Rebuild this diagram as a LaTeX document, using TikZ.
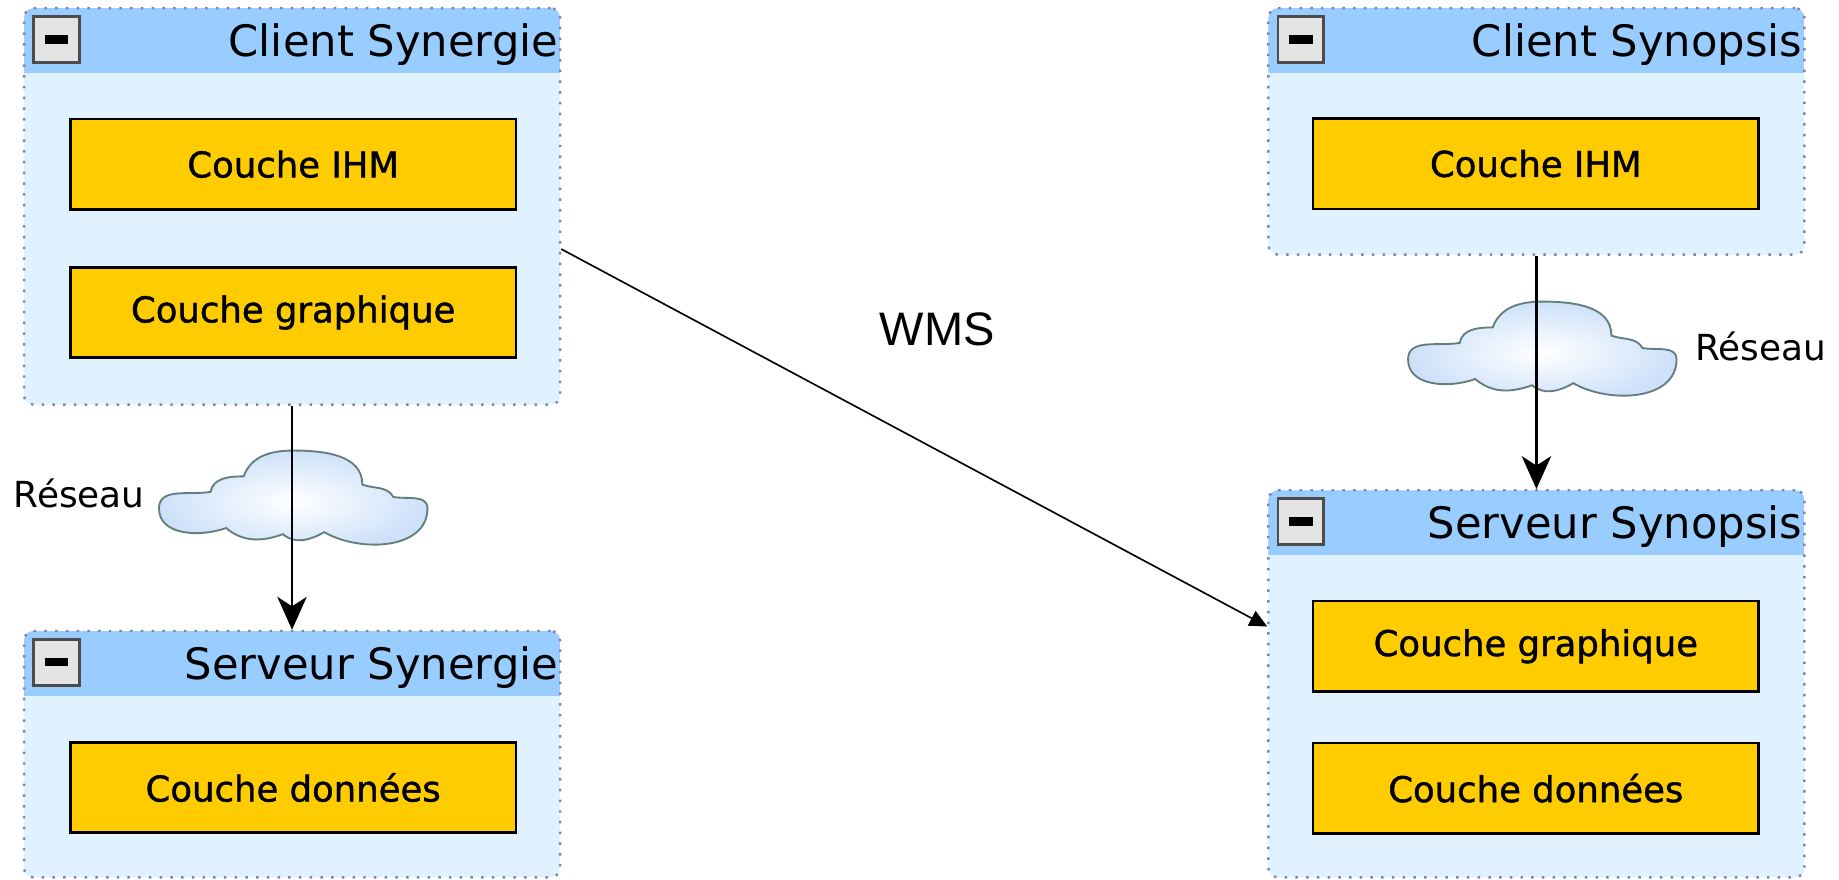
\documentclass[tikz,border=0pt]{standalone}
\usepackage{fontspec}
\setmainfont{DejaVu Sans}
\newfontfamily\wmsfont{Liberation Sans}
\newfontfamily\layerfont[FakeBold=1.2]{DejaVu Sans}
\usetikzlibrary{arrows.meta}
\definecolor{hdr_blue}{RGB}{153, 204, 255}
\definecolor{body_blue}{RGB}{224, 242, 255}
\definecolor{dot_blue}{RGB}{130, 130, 180}
\definecolor{layer_yellow}{RGB}{255, 204, 0}
\definecolor{cloud_blue}{RGB}{205, 225, 250}
\definecolor{cloud_line}{RGB}{100, 125, 125}
\definecolor{btn_gray}{RGB}{228, 228, 228}
\tikzstyle{grp}=[rectangle,rounded corners=0.08cm,fill=body_blue,draw=dot_blue,
  dotted,line width=0.6pt,minimum width=4.57cm,inner sep=0pt,
  path picture={\fill[hdr_blue,sharp corners] (path picture bounding box.north west) rectangle
    ([yshift=-0.55cm]path picture bounding box.north east);}]
\tikzstyle{ttl}=[anchor=base east,inner sep=0pt,font=\fontsize{10.5}{12}\selectfont]
\tikzstyle{btn}=[rectangle,anchor=north west,fill=btn_gray,draw=gray!60!black,
  line width=0.7pt,minimum size=0.39cm,inner sep=0pt,
  path picture={\fill[black] ([xshift=-0.1cm,yshift=-0.035cm]path picture bounding box.center)
    rectangle ([xshift=0.1cm,yshift=0.035cm]path picture bounding box.center);}]
\tikzstyle{layer}=[rectangle,fill=layer_yellow,draw=black,line width=0.6pt,
  minimum width=3.80cm,minimum height=0.77cm,font=\layerfont\fontsize{8.6}{10}\selectfont]
\tikzstyle{netfill}=[draw=cloud_line,line width=0.45pt,inner color=white,outer color=cloud_blue]
\tikzstyle{lbl}=[inner sep=0pt,font=\fontsize{8.7}{10}\selectfont]
\tikzstyle{bigarrow}=[-{Stealth[length=2.8mm,width=2.5mm,inset=0.8mm]},line width=0.7pt]
\tikzstyle{thinarrow}=[-{Triangle[length=1.5mm,width=1.4mm]},line width=0.4pt]
\newcommand{\netcloud}[1]{
  \begin{scope}[shift={(#1)},x=0.0088cm,y=0.0088cm]
    \path [style=netfill] (-80,3) to[out=190,in=90] (-130,-13)
      to[out=270,in=200] (-65,-32) to[out=-40,in=200] (-10,-38)
      to[out=-40,in=210] (30,-36) to[out=-30,in=270] (130,-13)
      to[out=90,in=-10] (97,-2) to[out=120,in=-20] (67,10)
      to[out=90,in=0] (0,43) to[out=180,in=70] (-48,18)
      to[out=180,in=80] cycle;
  \end{scope}}

\begin{document}
\begin{tikzpicture}
    \useasboundingbox (0,0) rectangle (15.68,-7.50);
    \node [style=grp,minimum height=3.38cm] (cs) at (2.49,-1.76) {};
    \node [style=grp,minimum height=2.10cm] (ss) at (2.49,-6.43) {};
    \node [style=grp,minimum height=2.10cm] (cp) at (13.10,-1.12) {};
    \node [style=grp,minimum height=3.30cm] (sp) at (13.10,-5.83) {};
    \node [style=btn] (cs_b) at ([xshift=0.08cm,yshift=-0.07cm]cs.north west) {};
    \node [style=btn] (ss_b) at ([xshift=0.08cm,yshift=-0.07cm]ss.north west) {};
    \node [style=btn] (cp_b) at ([xshift=0.08cm,yshift=-0.07cm]cp.north west) {};
    \node [style=btn] (sp_b) at ([xshift=0.08cm,yshift=-0.07cm]sp.north west) {};
    \node [style=ttl] (cs_t) at ([xshift=-0.02cm,yshift=-0.42cm]cs.north east) {Client Synergie};
    \node [style=ttl] (ss_t) at ([xshift=-0.02cm,yshift=-0.42cm]ss.north east) {Serveur Synergie};
    \node [style=ttl] (cp_t) at ([xshift=-0.02cm,yshift=-0.42cm]cp.north east) {Client Synopsis};
    \node [style=ttl] (sp_t) at ([xshift=-0.02cm,yshift=-0.42cm]sp.north east) {Serveur Synopsis};
    \node [style=layer] (cs_ihm) at (2.50,-1.40) {Couche IHM};
    \node [style=layer] (cs_gra) at (2.50,-2.665) {Couche graphique};
    \node [style=layer] (ss_don) at (2.50,-6.715) {Couche données};
    \node [style=layer] (cp_ihm) at (13.095,-1.395) {Couche IHM};
    \node [style=layer] (sp_gra) at (13.095,-5.51) {Couche graphique};
    \node [style=layer] (sp_don) at (13.095,-6.72) {Couche données};
    \coordinate (net_l) at (2.50,-4.22);
    \coordinate (net_r) at (13.15,-2.95);
    \netcloud{net_l}
    \netcloud{net_r}
    \node [style=lbl,anchor=base east] (net_l_t) at (1.24,-4.33) {Réseau};
    \node [style=lbl,anchor=base west] (net_r_t) at (14.45,-3.07) {Réseau};
    \node [inner sep=0pt,font=\wmsfont\fontsize{11.4}{13}\selectfont] (wms) at (7.99,-2.81) {WMS};
    \draw [style=bigarrow] (cs) to (ss);
    \draw [style=bigarrow] (cp) to (sp);
    \draw [style=thinarrow] (cs.-9) to (sp.168);
\end{tikzpicture}
\end{document}
